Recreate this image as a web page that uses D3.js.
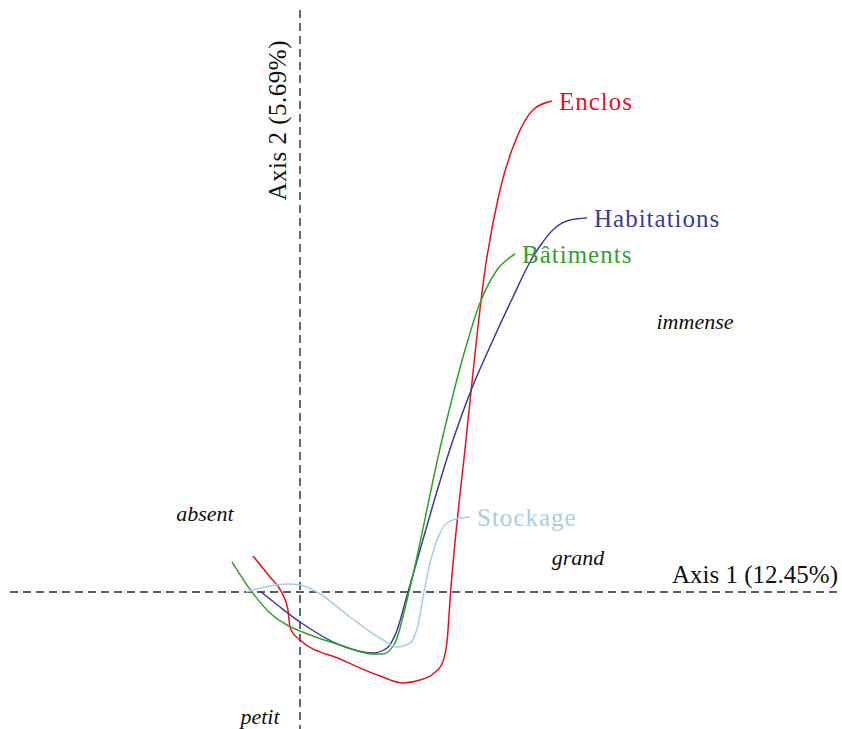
<!DOCTYPE html>
<html>
<head>
<meta charset="utf-8">
<script src="https://cdn.jsdelivr.net/npm/d3@7"></script>
<style>
  body { margin: 0; background: #fff; }
  svg { display: block; }
  text { font-family: "Liberation Serif", "DejaVu Serif", serif; }
</style>
</head>
<body>
<div id="chart"></div>
<script>
// Correspondence analysis: size categories per building type

var width = 842,
    height = 729;

var seriesNames = ["Enclos", "Habitations", "Bâtiments", "Stockage"];
var seriesColors = ["#e3141c", "#3b3c97", "#33a02c", "#a9cde6"];

// curve points (Axis 1, Axis 2)
var enclos = [[-0.47, 0.36], [-0.30, 0.15], [-0.18, -0.01], [-0.12, -0.18], [-0.11, -0.28],
  [-0.09, -0.38], [0.00, -0.48], [0.40, -0.67], [0.80, -0.84], [1.03, -0.91], [1.20, -0.88],
  [1.33, -0.82], [1.42, -0.72], [1.47, -0.50], [1.50, -0.08], [1.66, 1.52], [1.85, 3.22],
  [2.00, 4.02], [2.17, 4.55], [2.33, 4.82], [2.52, 4.91]];
var habitations = [[-0.40, 0.01], [-0.20, -0.15], [0.00, -0.30], [0.40, -0.53], [0.73, -0.61],
  [0.87, -0.56], [0.96, -0.41], [1.08, 0.00], [1.53, 1.52], [1.70, 1.99], [1.93, 2.52],
  [2.13, 2.95], [2.30, 3.30], [2.40, 3.46], [2.55, 3.64], [2.70, 3.72], [2.87, 3.74]];
var batiments = [[-0.68, 0.30], [-0.48, 0.00], [-0.30, -0.21], [-0.13, -0.33], [0.00, -0.39],
  [0.40, -0.53], [0.73, -0.62], [0.83, -0.62], [0.95, -0.51], [1.07, -0.08], [1.42, 1.52],
  [1.63, 2.35], [1.80, 2.89], [1.97, 3.22], [2.15, 3.38]];
var stockage = [[-0.54, 0.00], [-0.35, 0.05], [-0.13, 0.08], [0.00, 0.07], [0.17, 0.00],
  [0.50, -0.25], [0.83, -0.48], [0.97, -0.55], [1.10, -0.51], [1.18, -0.33], [1.24, 0.00],
  [1.30, 0.29], [1.37, 0.52], [1.47, 0.69], [1.60, 0.74], [1.70, 0.75]];

var categoryNames = ["absent", "petit", "grand", "immense"];
var categoryX = [-0.95, -0.40, 2.78, 3.95];
var categoryY = [0.79, -1.24, 0.35, 2.71];

var axisLabels = ["Axis 1 (12.45%)", "Axis 2 (5.69%)"];

var x = d3.scaleLinear().domain([-2.9, 5.4]).range([10, 840]);
var y = d3.scaleLinear().domain([-1.37, 5.82]).range([729, 10]);

var svg = d3.select("#chart").append("svg")
    .attr("width", width)
    .attr("height", height);

// Dashed zero axes
svg.append("line")
    .attr("x1", x(-2.9)).attr("x2", x(5.38))
    .attr("y1", y(0)).attr("y2", y(0))
    .attr("stroke", "#2a2a2a").attr("stroke-width", 1.4)
    .attr("stroke-dasharray", "8,5");
svg.append("line")
    .attr("x1", x(0)).attr("x2", x(0))
    .attr("y1", y(5.82)).attr("y2", y(-1.37))
    .attr("stroke", "#2a2a2a").attr("stroke-width", 1.4)
    .attr("stroke-dasharray", "8,5");

svg.append("text")
    .attr("x", x(5.38)).attr("y", y(0) - 9)
    .attr("text-anchor", "end")
    .style("font-size", "25px")
    .attr("fill", "#111")
    .text(axisLabels[0]);
svg.append("text")
    .attr("transform", "translate(" + (x(0) - 14) + "," + 40 + ") rotate(-90)")
    .attr("text-anchor", "end")
    .style("font-size", "25px")
    .style("letter-spacing", "0.5px")
    .attr("fill", "#111")
    .text(axisLabels[1]);

// Category labels
svg.selectAll(".cat")
    .data(categoryNames)
  .enter().append("text")
    .attr("class", "cat")
    .attr("x", function(d, i) { return x(categoryX[i]); })
    .attr("y", function(d, i) { return y(categoryY[i]); })
    .attr("dy", "0.35em")
    .attr("text-anchor", "middle")
    .style("font-size", "22px")
    .style("font-style", "italic")
    .attr("fill", "#111")
    .text(function(d) { return d; });

// Series curves
var series = [enclos, habitations, batiments, stockage];

var line = d3.line()
    .x(function(d) { return x(d[0]); })
    .y(function(d) { return y(d[1]); })
    .curve(d3.curveMonotoneX);

var groups = svg.selectAll(".series")
    .data(series)
  .enter().append("g")
    .attr("class", "series");

groups.append("path")
    .attr("d", line)
    .attr("fill", "none")
    .attr("stroke", function(d, i) { return seriesColors[i]; })
    .attr("stroke-width", 1.5);

groups.append("text")
    .attr("x", function(d) { return x(d[d.length - 1][0]) + 7; })
    .attr("y", function(d) { return y(d[d.length - 1][1]); })
    .attr("dy", "0.35em")
    .style("font-size", "25px")
    .style("letter-spacing", "1px")
    .attr("fill", function(d, i) { return seriesColors[i]; })
    .text(function(d, i) { return seriesNames[i]; });
</script>
</body>
</html>
